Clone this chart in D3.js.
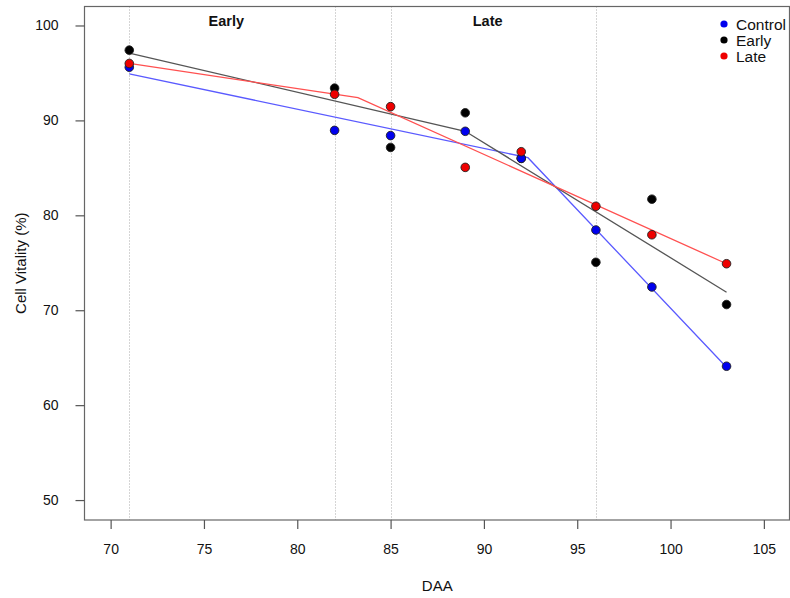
<!DOCTYPE html>
<html>
<head>
<meta charset="utf-8">
<script src="https://cdn.jsdelivr.net/npm/d3@7"></script>
<style>
  html, body { margin: 0; padding: 0; background: #fff; }
  text { font-family: "Liberation Sans", Arial, Helvetica, sans-serif; }
</style>
</head>
<body>
<script>
// ---- data ----
const daa = [71, 82, 85, 89, 92, 96, 99, 103];
const controlVals = [95.6, 88.95, 88.4, 88.85, 86.0, 78.45, 72.45, 64.1];
const earlyVals   = [97.4, 93.4, 87.15, 90.8, 86.0, 75.05, 81.7, 70.6];
const lateVals    = [96.0, 92.75, 91.45, 85.05, 86.7, 80.95, 77.95, 74.9];

// segmented fits (vertices)
const controlFitX = [71, 92.36, 103];
const controlFitY = [94.9, 86.07, 64.0];
const earlyFitX   = [71, 89.0, 103];
const earlyFitY   = [97.1, 88.85, 71.9];
const lateFitX    = [71, 83.25, 103];
const lateFitY    = [96.0, 92.4, 74.9];

const phaseLines = [71, 82, 85, 96];
const phaseLabels = ["Early", "Late"];
const phaseLabelX = [76.2, 90.2];

const xTicks = [70, 75, 80, 85, 90, 95, 100, 105];
const yTicks = [50, 60, 70, 80, 90, 100];
const seriesNames = ["Control", "Early", "Late"];
const pointColors = ["#0000ee", "#000000", "#ee0000"];
const lineColors = ["#5a5aff", "#555555", "#ff5050"];

// ---- layout ----
const W = 790, H = 598;
const svg = d3.select("body").append("svg").attr("width", W).attr("height", H);

const pL = 84.5, pR = 790, pT = 6.5, pB = 520;
const x = d3.scaleLinear().domain([68.6, 106.4]).range([pL, pR]);
const y = d3.scaleLinear().domain([47.9, 102]).range([pB, pT]);

// phase lines
svg.append("g").selectAll("line").data(phaseLines).join("line")
  .attr("x1", d => Math.round(x(d)) + 0.5).attr("x2", d => Math.round(x(d)) + 0.5)
  .attr("y1", pT).attr("y2", pB)
  .attr("stroke", "#aaaaaa").attr("stroke-width", 1).attr("stroke-dasharray", "1,2");

// phase labels
svg.append("g").selectAll("text").data(phaseLabels).join("text")
  .attr("x", (d, i) => x(phaseLabelX[i])).attr("y", y(100.5))
  .attr("text-anchor", "middle").attr("dominant-baseline", "central")
  .attr("font-weight", "bold").attr("font-size", 14.5).attr("fill", "#111")
  .text(d => d);

// fit lines
const fits = [
  controlFitX.map((v, i) => [v, controlFitY[i]]),
  earlyFitX.map((v, i) => [v, earlyFitY[i]]),
  lateFitX.map((v, i) => [v, lateFitY[i]])
];
const lineGen = d3.line().x(d => x(d[0])).y(d => y(d[1]));
svg.append("g").selectAll("path").data(fits).join("path")
  .attr("d", lineGen).attr("fill", "none")
  .attr("stroke", (d, i) => lineColors[i]).attr("stroke-width", 1.3);

// points
const vals = [controlVals, earlyVals, lateVals];
const drawOrder = [1, 0, 2];
drawOrder.forEach(si => {
  svg.append("g").selectAll("circle").data(daa.map((d, i) => [d, vals[si][i]])).join("circle")
    .attr("cx", d => x(d[0])).attr("cy", d => y(d[1])).attr("r", 4.3)
    .attr("fill", pointColors[si]).attr("stroke", "#222").attr("stroke-width", 0.9);
});

// frame
svg.append("rect").attr("x", pL).attr("y", pT).attr("width", pR - pL - 0.5).attr("height", pB - pT)
  .attr("fill", "none").attr("stroke", "#666").attr("stroke-width", 1.2);

// axes
const xAxis = svg.append("g").attr("transform", `translate(0,${pB})`)
  .call(d3.axisBottom(x).tickValues(xTicks).tickSize(9).tickPadding(15).tickFormat(d3.format("d")));
xAxis.select(".domain").remove();
xAxis.selectAll("line").attr("stroke", "#555").attr("stroke-width", 1.2);
xAxis.selectAll("text").attr("font-size", 14).attr("fill", "#111")
  .style("font-family", "'Liberation Sans', Arial, Helvetica, sans-serif");

const yAxis = svg.append("g").attr("transform", `translate(${pL},0)`)
  .call(d3.axisLeft(y).tickValues(yTicks).tickSize(9).tickPadding(17).tickFormat(d3.format("d")));
yAxis.select(".domain").remove();
yAxis.selectAll("line").attr("stroke", "#555").attr("stroke-width", 1.2);
yAxis.selectAll("text").attr("font-size", 14).attr("fill", "#111")
  .style("font-family", "'Liberation Sans', Arial, Helvetica, sans-serif");

// axis titles
svg.append("text").attr("x", (pL + pR) / 2).attr("y", 585)
  .attr("text-anchor", "middle").attr("dominant-baseline", "central")
  .attr("font-size", 15).attr("fill", "#111").text("DAA");
svg.append("text").attr("transform", `translate(20,${(pT + pB) / 2}) rotate(-90)`)
  .attr("text-anchor", "middle").attr("dominant-baseline", "central")
  .attr("font-size", 15).attr("fill", "#111").text("Cell Vitality (%)");

// legend
const lg = svg.append("g");
seriesNames.forEach((n, i) => {
  lg.append("circle").attr("cx", 724).attr("cy", 24 + i * 16).attr("r", 3.6).attr("fill", pointColors[i]);
  lg.append("text").attr("x", 736).attr("y", 24 + i * 16).attr("dominant-baseline", "central")
    .attr("font-size", 15.5).attr("fill", "#111").text(n);
});
</script>
</body>
</html>
